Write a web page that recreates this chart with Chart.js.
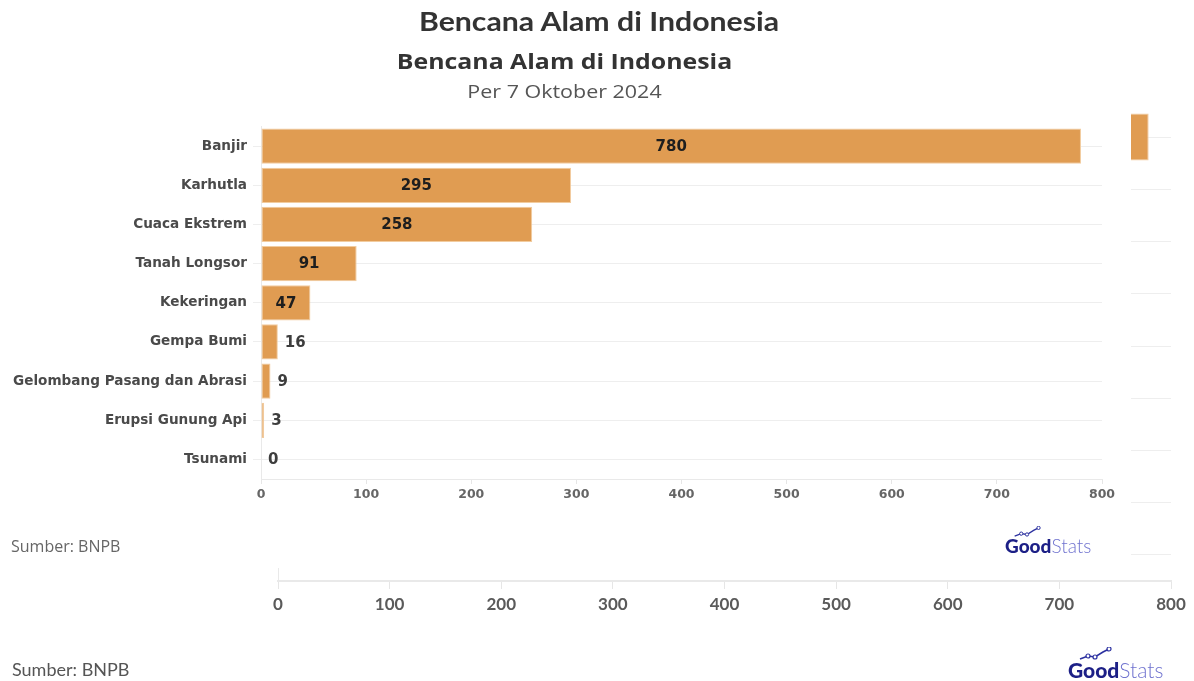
<!DOCTYPE html>
<html>
<head>
<meta charset="utf-8">
<script src="https://cdn.jsdelivr.net/npm/chart.js@4/dist/chart.umd.min.js"></script>
<style>
  body { margin: 0; background: #fff; width: 1194px; height: 681px; overflow: hidden; position: relative; }
  .abs { position: absolute; white-space: nowrap; }
  .wide { transform-origin: center center; }
  #back { position: absolute; left: 0; top: 0; }
  #front { position: absolute; left: 0; top: 40px; width: 1131px; height: 528px; background: #fff; z-index: 2; }
  #front canvas { position: absolute; left: 0; top: 0; }
  .logo span.g { font-family: "Lato", sans-serif; font-weight: 900; color: #1c1f86; }
  .logo span.s { font-family: "Lato", sans-serif; font-weight: 300; color: #6f72cf; }
</style>
</head>
<body>
<!-- chart behind -->
<canvas id="back" width="1194" height="681"></canvas>
<div class="abs wide" style="left:0;width:1198px;top:4px;text-align:center;font:700 27px Lato, sans-serif;color:#333;transform:scaleX(1.12);">Bencana Alam di Indonesia</div>
<div class="abs" style="left:12px;top:658px;font:400 18px Lato, sans-serif;color:#555;">Sumber: BNPB</div>
<div class="abs logo" style="left:1068px;top:657px;font-size:21px;">
  <svg width="34" height="14" style="position:absolute;left:10px;top:-10px" viewBox="0 0 34 14">
    <polyline points="2,12 10,9 17,10 25,5 31,2" fill="none" stroke="#2c31a0" stroke-width="1.6"/>
    <circle cx="10" cy="9" r="2" fill="#fff" stroke="#2c31a0" stroke-width="1.2"/>
    <circle cx="17" cy="10" r="2" fill="#fff" stroke="#2c31a0" stroke-width="1.2"/>
    <circle cx="31" cy="2" r="2" fill="#fff" stroke="#2c31a0" stroke-width="1.2"/>
  </svg>
  <span class="g">Good</span><span class="s">Stats</span>
</div>

<!-- chart in front -->
<div id="front">
  <canvas id="frontChart" width="1131" height="528"></canvas>
  <div class="abs wide" style="left:0;width:1129px;top:5px;text-align:center;font:700 22px 'Open Sans', sans-serif;color:#333;transform:scaleX(1.13);">Bencana Alam di Indonesia</div>
  <div class="abs wide" style="left:0;width:1129px;top:38px;text-align:center;font:400 19px 'Open Sans', sans-serif;color:#555;transform:scaleX(1.13);">Per 7 Oktober 2024</div>
  <div class="abs" style="left:11px;top:495px;font:400 16px 'Open Sans', sans-serif;color:#666;">Sumber: BNPB</div>
  <div class="abs logo" style="left:1005px;top:494px;font-size:19px;">
    <svg width="28" height="12" style="position:absolute;left:8px;top:-8px" viewBox="0 0 34 14">
      <polyline points="2,12 10,9 17,10 25,5 31,2" fill="none" stroke="#2c31a0" stroke-width="1.6"/>
      <circle cx="10" cy="9" r="2" fill="#fff" stroke="#2c31a0" stroke-width="1.2"/>
      <circle cx="17" cy="10" r="2" fill="#fff" stroke="#2c31a0" stroke-width="1.2"/>
      <circle cx="31" cy="2" r="2" fill="#fff" stroke="#2c31a0" stroke-width="1.2"/>
    </svg>
    <span class="g">Good</span><span class="s">Stats</span>
  </div>
</div>

<script>
var categories = ["Banjir", "Karhutla", "Cuaca Ekstrem", "Tanah Longsor", "Kekeringan",
                  "Gempa Bumi", "Gelombang Pasang dan Abrasi", "Erupsi Gunung Api", "Tsunami"];
var values = [780, 295, 258, 91, 47, 16, 9, 3, 0];
var xMin = 0;
var xMax = 800;
var xStep = 100;

var barColor = "#e09c52";

// number next to / inside each bar
var valueLabels = {
    id: "valueLabels",
    afterDatasetsDraw: function(chart, args, opts) {
        var ctx = chart.ctx;
        var meta = chart.getDatasetMeta(0);
        ctx.save();
        ctx.font = opts.font;
        ctx.textBaseline = "middle";
        meta.data.forEach(function(bar, i) {
            var txt = String(chart.data.datasets[0].data[i]);
            var w = ctx.measureText(txt).width;
            var barW = bar.x - bar.base;
            if (barW > w + 14) {
                ctx.fillStyle = "#1e1e1e";
                ctx.textAlign = "center";
                ctx.fillText(txt, (bar.x + bar.base) / 2, bar.y + 1);
            } else {
                ctx.fillStyle = "#3d3d3d";
                ctx.textAlign = "left";
                ctx.fillText(txt, bar.x + 7, bar.y + 1);
            }
        });
        ctx.restore();
    }
};

function makeChart(canvas, s) {
    return new Chart(canvas, {
        type: "bar",
        data: {
            labels: categories,
            datasets: [{
                data: values,
                backgroundColor: barColor,
                borderColor: "#f2cc9f",
                borderWidth: 1,
                borderSkipped: false,
                barPercentage: 0.9,
                categoryPercentage: 1
            }]
        },
        options: {
            indexAxis: "y",
            responsive: false,
            animation: false,
            devicePixelRatio: 1,
            layout: { padding: { left: 0, right: s.padRight, top: s.padTop, bottom: 0 } },
            plugins: {
                legend: { display: false },
                tooltip: { enabled: false },
                valueLabels: { font: s.valueFont }
            },
            scales: {
                x: {
                    min: xMin,
                    max: xMax,
                    ticks: { stepSize: xStep, color: s.xColor, font: s.xFont, padding: s.xPad },
                    grid: { display: true, drawOnChartArea: false, tickLength: s.xTick, color: "#e6e6e6" },
                    border: { display: true, color: "#e9e9e9", width: s.xBorder },
                    afterFit: function(scale) { scale.height = s.xHeight; }
                },
                y: {
                    ticks: { display: s.yLabels, color: "#4a4a4a", font: s.yFont, padding: 6 },
                    grid: { display: true, offset: false, tickLength: 8, color: "#eeeeee" },
                    border: { display: true, color: "#e9e9e9" },
                    afterFit: function(scale) { scale.width = s.yWidth; }
                }
            }
        },
        plugins: [valueLabels]
    });
}

// chart behind
makeChart(document.getElementById("back"), {
    padRight: 23, padTop: 111, xHeight: 100, yWidth: 278, yLabels: false,
    xFont: { family: "Lato", weight: "bold", size: 17 }, xColor: "#5a5a5a", xPad: 5, xTick: 8, xBorder: 2,
    yFont: { family: "Lato", weight: "bold", size: 16 },
    valueFont: "bold 18px 'DejaVu Sans'"
});

// chart in front
makeChart(document.getElementById("frontChart"), {
    padRight: 29, padTop: 86.5, xHeight: 89, yWidth: 261, yLabels: true,
    xFont: { family: "DejaVu Sans", weight: "bold", size: 12.5 }, xColor: "#666", xPad: 3, xTick: 5, xBorder: 1,
    yFont: { family: "DejaVu Sans", weight: "bold", size: 13.6 },
    valueFont: "bold 15px 'DejaVu Sans'"
});
</script>
</body>
</html>
